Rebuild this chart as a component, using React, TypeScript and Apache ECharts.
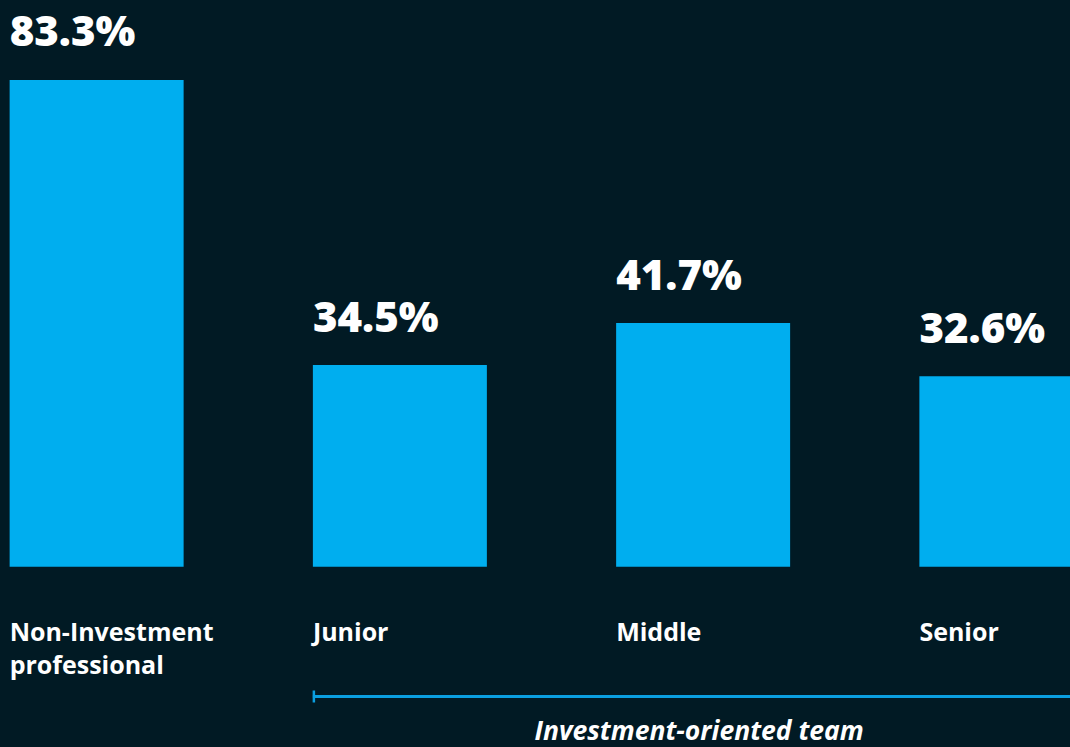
import React, { useEffect, useRef } from "react";
import * as echarts from "echarts";

const categories = ["Non-Investment\nprofessional", "Junior", "Middle", "Senior"];
const values = [83.3, 34.5, 41.7, 32.6];
const groupLabel = "Investment-oriented team";

const BG = "#011a24";
const BAR = "#00aeef";
const LINE = "#0a9fe0";
const FONT = "'Open Sans', 'Noto Sans', sans-serif";
const SHIFT = 55;

export default function App() {
  const ref = useRef<HTMLDivElement>(null);
  useEffect(() => {
    if (!ref.current) return;
    const chart = echarts.init(ref.current, undefined, { renderer: "svg" });
    const barW = 174;
    const option: any = {
      animation: false,
      backgroundColor: BG,
      grid: { left: 0, right: 0, top: 40.8, bottom: 180.3, containLabel: false },
      xAxis: {
        type: "category",
        data: categories,
        axisLine: { show: false },
        axisTick: { show: false },
        splitLine: { show: false },
        axisLabel: {
          interval: 0,
          margin: 48,
          align: "center",
          formatter: (v: string) => v.split("\n").map((l) => `{a|${l}}`).join("\n"),
          rich: {
            a: {
              width: barW,
              align: "left",
              color: "#ffffff",
              fontFamily: FONT,
              fontWeight: 700,
              fontSize: 25,
              lineHeight: 33,
            },
          },
        },
      },
      yAxis: {
        type: "value",
        min: 0,
        max: 90,
        show: false,
        splitLine: { show: false },
      },
      series: [
        {
          type: "bar",
          data: values,
          barWidth: barW,
          itemStyle: { color: BAR },
          label: {
            show: true,
            position: "top",
            distance: 28,
            formatter: (p: any) => `{v|${p.value.toFixed(1)}%}`,
            rich: {
              v: {
                width: barW,
                align: "left",
                color: "#ffffff",
                fontFamily: FONT,
                fontWeight: 800,
                fontSize: 42,
                lineHeight: 44,
              },
            },
          },
        },
      ],
    };
    chart.setOption(option);
    const halfBar = barW / 2;
    const x1 = (chart.convertToPixel({ xAxisIndex: 0 }, categories[1]) as number) - halfBar;
    const x2 = (chart.convertToPixel({ xAxisIndex: 0 }, categories[3]) as number) + halfBar;
    const ly = 696.5;
    chart.setOption({
      graphic: [
        {
          type: "line",
          shape: { x1, y1: ly, x2, y2: ly },
          style: { stroke: LINE, lineWidth: 3 },
        },
        {
          type: "line",
          shape: { x1: x1 + 1, y1: ly - 6, x2: x1 + 1, y2: ly + 6 },
          style: { stroke: LINE, lineWidth: 2.5 },
        },
        {
          type: "text",
          x: (x1 + x2) / 2 - 4,
          y: 743,
          style: {
            text: groupLabel,
            fill: "#ffffff",
            font: `italic 700 26.5px ${FONT}`,
            textAlign: "center",
            textVerticalAlign: "bottom",
          },
        },
      ],
    });
    return () => chart.dispose();
  }, []);
  return (
    <div
      style={{
        position: "fixed",
        left: 0,
        top: 0,
        width: 1070,
        height: 747,
        overflow: "hidden",
        background: BG,
      }}
    >
      <div
        ref={ref}
        style={{ position: "absolute", left: -SHIFT, top: 0, width: 1213, height: 747 }}
      />
    </div>
  );
}
